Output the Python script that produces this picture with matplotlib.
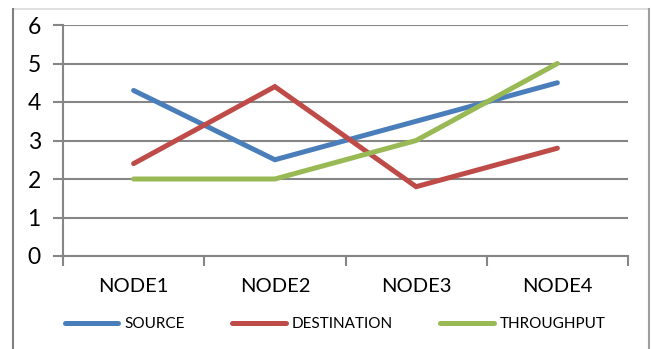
import numpy as np
import matplotlib.pyplot as plt
from matplotlib.lines import Line2D

nodes = ['NODE1', 'NODE2', 'NODE3', 'NODE4']
source = [4.3, 2.5, 3.5, 4.5]
destination = [2.4, 4.4, 1.8, 2.8]
throughput = [2, 2, 3, 5]

plt.rcParams['font.family'] = ['Lato', 'DejaVu Sans']

fig = plt.figure(figsize=(6.51, 3.49), dpi=100)
ax = fig.add_axes([63 / 651, 1 - 256 / 349, 565 / 651, 231 / 349])

x = np.arange(len(nodes)) + 0.5
ax.plot(x, source, color='#4A7EBB', lw=3.6, solid_capstyle='round', solid_joinstyle='miter', label='SOURCE')
ax.plot(x, destination, color='#BE4B48', lw=3.6, solid_capstyle='round', solid_joinstyle='miter', label='DESTINATION')
ax.plot(x, throughput, color='#98B954', lw=3.6, solid_capstyle='round', solid_joinstyle='miter', label='THROUGHPUT')

ax.set_xlim(0, 4)
ax.set_ylim(0, 6)
ax.set_yticks(range(7))
ax.grid(axis='y', color='#868686', lw=1.5)
ax.set_axisbelow(True)

# ticks between categories, labels centred on them
ax.set_xticks(range(5))
ax.set_xticklabels([])
ax.set_xticks(x, minor=True)
ax.set_xticklabels(nodes, minor=True, fontsize=14.5)
ax.tick_params(axis='x', which='minor', length=0, pad=16)
ax.tick_params(axis='x', which='major', length=7, width=1.5, color='#868686')
ax.tick_params(axis='y', length=7, width=1.5, color='#868686', labelsize=16.5, pad=9)

for s in ['top', 'right']:
    ax.spines[s].set_visible(False)
for s in ['left', 'bottom']:
    ax.spines[s].set_color('#868686')
    ax.spines[s].set_linewidth(1.5)

fig.legend(loc='center', bbox_to_anchor=(0.515, 0.072), ncol=3, frameon=False,
           fontsize=11, handlelength=3.5, handletextpad=0.4, columnspacing=3.1,
           borderpad=0)

# outer chart frame
fig.add_artist(Line2D([13 / 651, 649 / 651], [1 - 9 / 349] * 2, color='#d9d9d9', lw=1.2))
fig.add_artist(Line2D([13 / 651] * 2, [0, 1 - 9 / 349], color='#808080', lw=1.5))
fig.add_artist(Line2D([649 / 651] * 2, [0, 1 - 9 / 349], color='#a0a0a0', lw=1.5))

fig.savefig('out.png', dpi=100)
